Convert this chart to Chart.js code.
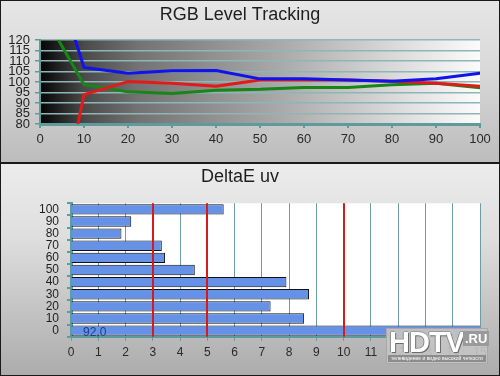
<!DOCTYPE html>
<html>
<head>
<meta charset="utf-8">
<script src="https://cdn.jsdelivr.net/npm/chart.js@4"></script>
<style>
  html, body { margin: 0; padding: 0; }
  body { width: 500px; height: 376px; position: relative; overflow: hidden; background: #000; font-family: "Liberation Sans", Arial, sans-serif; }
  .panel { position: absolute; left: 0; width: 500px; box-sizing: border-box; border: 1px solid #1a1a1a; }
  #p1 { top: 0; height: 164px; background: linear-gradient(to bottom, #e6e6e6 0%, #dadada 40%, #bcbcbc 100%); border-bottom-width: 2px; }
  #p2 { top: 163px; height: 213px; background: linear-gradient(to bottom, #ececec 0%, #dedede 35%, #acacac 100%); }
  canvas { position: absolute; left: 0; }
  #c1 { top: 0; }
  #c2 { top: 163px; }
  #logo { position: absolute; left: 386px; top: 328px; width: 102px; height: 36px; background: rgba(196,196,196,0.92); border: 1px solid #a8a8a8; box-sizing: border-box; }
  #logo .big { position: absolute; left: 2px; top: -3px; font: bold 29px "Liberation Sans", Arial, sans-serif; color: #fff; letter-spacing: -1px; text-shadow: 1px 1px 0 #6a6a6a, -1px 0 0 #8a8a8a, 0 -1px 0 #9a9a9a; }
  #logo .ru { position: absolute; left: 76px; top: 2px; font: bold 13px "Liberation Sans", Arial, sans-serif; color: #fff; background: #9a9a9a; padding: 0 2px; }
  #logo .sub { position: absolute; left: 1px; bottom: 1px; width: 98px; font: 5px "Liberation Sans", Arial, sans-serif; color: #fff; background: #8c8c8c; text-align: center; white-space: nowrap; overflow: hidden; line-height: 7px; }
</style>
</head>
<body>
<div class="panel" id="p1"></div>
<div class="panel" id="p2"></div>
<canvas id="c1" width="500" height="163"></canvas>
<canvas id="c2" width="500" height="213"></canvas>
<div id="logo"><span class="big">HDTV</span><span class="ru">.RU</span><div class="sub">телевидение и видео высокой четкости</div></div>
<script>
// ---------- RGB Level Tracking data ----------
const rgbTitle = 'RGB Level Tracking';
const blueX  = [8, 10, 20, 30, 40, 50, 60, 70, 80, 90, 100];
const blueY  = [120, 106.9, 104.2, 105.3, 105.5, 101.5, 101.5, 101, 100.3, 101.5, 104.2];
const redX   = [8.6, 10, 20, 30, 40, 50, 60, 70, 80, 90, 100];
const redY   = [80, 94, 100.2, 99.4, 98, 101, 101, 101, 100.3, 99.4, 98];
const greenX = [4.2, 10, 20, 30, 40, 50, 60, 70, 80, 90, 100];
const greenY = [120, 98.8, 95.3, 94.5, 96.1, 96.5, 97.4, 97.4, 98.7, 99.4, 97.3];

// ---------- DeltaE uv data ----------
const deTitle = 'DeltaE uv';
const deCategories = ['0', '10', '20', '30', '40', '50', '60', '70', '80', '90', '100'];
const deValues = [92.0, 8.55, 7.32, 8.73, 7.9, 4.54, 3.45, 3.33, 1.85, 2.21, 5.6];
const deLimits = [3, 5, 10];

const FONT = '"Liberation Sans", Arial, sans-serif';
const TEAL = '#5e9c9c';
const pts = (xs, ys) => xs.map((x, i) => ({ x: x, y: ys[i] }));

const gradientBg = {
  id: 'gradientBg',
  beforeDraw(chart) {
    const a = chart.chartArea, ctx = chart.ctx;
    const g = ctx.createLinearGradient(a.left, 0, a.right, 0);
    g.addColorStop(0, '#030303');
    g.addColorStop(0.1, '#4a4a4a');
    g.addColorStop(0.22, '#727272');
    g.addColorStop(0.38, '#8e8e8e');
    g.addColorStop(0.55, '#aaaaaa');
    g.addColorStop(0.7, '#c6c6c6');
    g.addColorStop(0.85, '#e2e2e2');
    g.addColorStop(1, '#fbfbfb');
    ctx.save();
    ctx.fillStyle = g;
    ctx.fillRect(a.left, a.top, a.right - a.left, a.bottom - a.top);
    ctx.restore();
  }
};

new Chart(document.getElementById('c1'), {
  type: 'line',
  data: {
    datasets: [
      { data: pts(blueX, blueY), borderColor: '#1212ea', borderWidth: 3 },
      { data: pts(redX, redY), borderColor: '#e21a1a', borderWidth: 3 },
      { data: pts(greenX, greenY), borderColor: '#178517', borderWidth: 3 }
    ]
  },
  options: {
    responsive: false,
    animation: false,
    layout: { padding: { left: 0, right: 20, top: 0, bottom: 0 } },
    elements: { point: { radius: 0 }, line: { tension: 0, borderCapStyle: 'round', borderJoinStyle: 'round' } },
    plugins: {
      legend: { display: false },
      tooltip: { enabled: false },
      title: { display: true, text: rgbTitle, color: '#1e1e1e', font: { family: FONT, size: 18, weight: 'normal', lineHeight: 1.2 }, padding: { top: 4, bottom: 14.4 } }
    },
    scales: {
      x: {
        type: 'linear', min: 0, max: 100,
        ticks: { stepSize: 10, color: '#2a2a2a', font: { family: FONT, size: 13 }, padding: 4, maxRotation: 0 },
        grid: { drawOnChartArea: false, drawTicks: true, tickLength: 4, color: TEAL, lineWidth: 2 },
        border: { display: true, color: TEAL, width: 3 },
        afterFit(s) { s.height = 39; }
      },
      y: {
        min: 80, max: 120,
        ticks: { stepSize: 5, autoSkip: false, color: '#1e1e1e', font: { family: FONT, size: 13, lineHeight: 1 }, padding: 5 },
        grid: { color: '#8fb6b6', lineWidth: 1.5, tickColor: TEAL, tickLength: 5, drawTicks: true },
        border: { display: true, color: TEAL, width: 2 },
        afterFit(s) { s.width = 40; }
      }
    }
  },
  plugins: [gradientBg]
});

const whiteBg = {
  id: 'whiteBg',
  beforeDraw(chart) {
    const a = chart.chartArea, ctx = chart.ctx;
    ctx.save();
    ctx.fillStyle = '#ffffff';
    ctx.fillRect(a.left, a.top, a.right - a.left, a.bottom - a.top);
    ctx.restore();
  }
};

const limitLines = {
  id: 'limitLines',
  afterDatasetsDraw(chart) {
    const x = chart.scales.x, a = chart.chartArea, ctx = chart.ctx;
    ctx.save();
    ctx.strokeStyle = '#d41c1c';
    ctx.lineWidth = 2;
    deLimits.forEach(v => {
      const px = Math.round(x.getPixelForValue(v));
      ctx.beginPath();
      ctx.moveTo(px, a.top);
      ctx.lineTo(px, a.bottom);
      ctx.stroke();
    });
    // value label for bars running off the scale
    const meta = chart.getDatasetMeta(0);
    ctx.fillStyle = '#1d3f86';
    ctx.font = '12px ' + FONT;
    ctx.textAlign = 'left';
    ctx.textBaseline = 'middle';
    deValues.forEach((v, i) => {
      if (v > x.max) {
        const bar = meta.data[i];
        ctx.fillText(v.toFixed(1).replace('.', ','), x.getPixelForValue(0) + 12, bar.y + 2);
      }
    });
    ctx.restore();
  }
};

new Chart(document.getElementById('c2'), {
  type: 'bar',
  data: {
    labels: deCategories,
    datasets: [{ data: deValues, backgroundColor: '#6592e6', borderColor: '#111111', borderWidth: 1, borderSkipped: 'start', barPercentage: 0.86, categoryPercentage: 1 }]
  },
  options: {
    indexAxis: 'y',
    responsive: false,
    animation: false,
    layout: { padding: { left: 0, right: 20, top: 0, bottom: 0 } },
    plugins: {
      legend: { display: false },
      tooltip: { enabled: false },
      title: { display: true, text: deTitle, color: '#1e1e1e', font: { family: FONT, size: 18, weight: 'normal', lineHeight: 1.2 }, padding: { top: 3.2, bottom: 15.5 } }
    },
    scales: {
      x: {
        type: 'linear', min: 0, max: 15,
        ticks: { stepSize: 1, autoSkip: false, color: '#2a2a2a', font: { family: FONT, size: 12 }, padding: 5, maxRotation: 0 },
        grid: { color: '#6f9c9c', lineWidth: 1, tickColor: TEAL, tickLength: 4 },
        border: { display: true, color: TEAL, width: 2 },
        afterFit(s) { s.height = 39.3; }
      },
      y: {
        reverse: true,
        ticks: { autoSkip: false, color: '#1e1e1e', font: { family: FONT, size: 12, lineHeight: 1 }, padding: 8 },
        grid: { drawOnChartArea: false, drawTicks: true, tickLength: 4, color: TEAL, lineWidth: 2, offset: true },
        border: { display: true, color: TEAL, width: 3 },
        afterFit(s) { s.width = 71; }
      }
    }
  },
  plugins: [whiteBg, limitLines]
});
</script>
</body>
</html>
